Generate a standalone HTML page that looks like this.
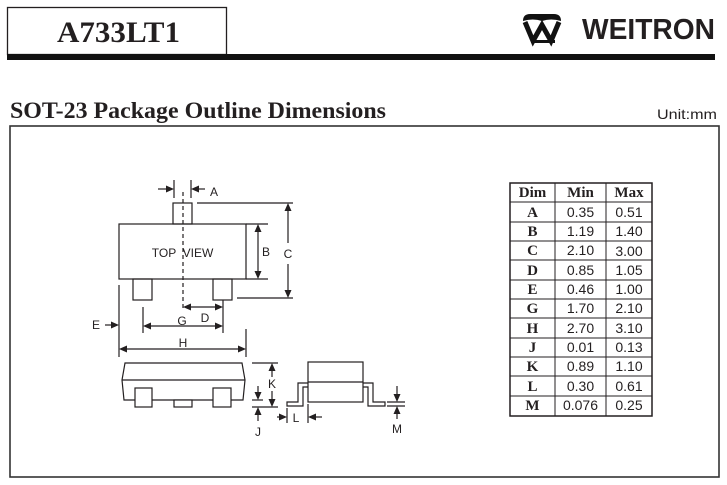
<!DOCTYPE html>
<html><head><meta charset="utf-8"><style>
html,body{margin:0;padding:0;background:#fff;}
svg{display:block;}
text{fill:#231f20;}
.s{font-family:"Liberation Sans",sans-serif;}
.r{font-family:"Liberation Serif",serif;font-weight:bold;}
</style></head><body>
<svg width="727" height="485" viewBox="0 0 727 485" xmlns="http://www.w3.org/2000/svg">
<!-- header -->
<rect x="7.5" y="7.5" width="219" height="47" fill="none" stroke="#231f20" stroke-width="1.3"/>
<rect x="7" y="54" width="708" height="6" fill="#111"/>
<text x="57" y="42" class="r" font-size="30" textLength="123" lengthAdjust="spacingAndGlyphs">A733LT1</text>
<!-- logo -->
<path d="M523,21 Q523,14 530,14 L554,14 Q561,14 561,21 Q551,18 542,21 Q533,18 523,21 Z" fill="#111"/>
<polyline points="525,22 533,41 542,25 551,41 559,22" fill="none" stroke="#111" stroke-width="5"/>
<rect x="531" y="40" width="24" height="3" fill="#111"/>
<text x="582" y="39" class="s" font-weight="bold" font-size="29" textLength="133" lengthAdjust="spacingAndGlyphs">WEITRON</text>
<!-- title -->
<text x="10" y="118" class="r" font-size="23" textLength="376" lengthAdjust="spacingAndGlyphs">SOT-23 Package Outline Dimensions</text>
<text x="657" y="119" class="s" font-size="14" textLength="60" lengthAdjust="spacingAndGlyphs">Unit:mm</text>
<!-- frame -->
<rect x="10" y="126" width="709" height="351" fill="none" stroke="#333" stroke-width="1.6"/>

<g stroke="#231f20" stroke-width="1.2" fill="none">
  <!-- top view -->
  <rect x="173" y="203" width="19" height="21"/>
  <rect x="119" y="224" width="127" height="55"/>
  <rect x="133" y="279" width="19" height="21"/>
  <rect x="213" y="279" width="19" height="21"/>
  <line x1="183" y1="192" x2="183" y2="308" stroke-dasharray="4,3"/>
  <!-- A -->
  <line x1="174" y1="180" x2="174" y2="198"/>
  <line x1="191" y1="180" x2="191" y2="198"/>
  <line x1="158" y1="189" x2="168" y2="189"/>
  <line x1="196" y1="189" x2="205" y2="189"/>
  <!-- B -->
  <line x1="246" y1="224" x2="268" y2="224"/>
  <line x1="246" y1="279" x2="268" y2="279"/>
  <line x1="258" y1="230" x2="258" y2="273"/>
  <!-- C -->
  <line x1="197" y1="203" x2="293" y2="203"/>
  <line x1="237" y1="298" x2="293" y2="298"/>
  <line x1="288" y1="209" x2="288" y2="243"/>
  <line x1="288" y1="264" x2="288" y2="292"/>
  <!-- D -->
  <line x1="223" y1="300" x2="223" y2="333"/>
  <line x1="189" y1="307" x2="217" y2="307"/>
  <!-- G -->
  <line x1="143" y1="307" x2="143" y2="333"/>
  <line x1="149" y1="326" x2="217" y2="326"/>
  <!-- E -->
  <line x1="119" y1="285" x2="119" y2="357"/>
  <line x1="105" y1="325" x2="113" y2="325"/>
  <!-- H -->
  <line x1="246" y1="329" x2="246" y2="357"/>
  <line x1="125" y1="349" x2="240" y2="349"/>

  <!-- side view -->
  <path d="M125,363 L242,363 L245,380 L243,400 L124,400 L122,380 Z"/>
  <line x1="122" y1="380" x2="245" y2="380"/>
  <rect x="135" y="388" width="17" height="19" fill="#fff"/>
  <rect x="213" y="388" width="18" height="19" fill="#fff"/>
  <rect x="174" y="400" width="18" height="7" fill="#fff"/>
  <!-- K -->
  <line x1="252" y1="363" x2="278" y2="363"/>
  <line x1="252" y1="407" x2="278" y2="407"/>
  <line x1="252" y1="400" x2="263" y2="400"/>
  <line x1="272" y1="369" x2="272" y2="377"/>
  <line x1="272" y1="391" x2="272" y2="401"/>
  <!-- J -->
  <line x1="258" y1="386" x2="258" y2="394"/>
  <line x1="258" y1="413" x2="258" y2="421"/>
  <!-- end view -->
  <rect x="308" y="362" width="55" height="40"/>
  <line x1="308" y1="382" x2="363" y2="382"/>
  <path d="M308,383 L298,383 L298,402 L287,402 L287,406 L303,406 L303,387 L308,387"/>
  <path d="M363,383 L373,383 L373,402 L385,402 L385,406 L368,406 L368,387 L363,387"/>
  <!-- L -->
  <line x1="287" y1="408" x2="287" y2="423"/>
  <line x1="308" y1="404" x2="308" y2="423"/>
  <line x1="277" y1="417" x2="281" y2="417"/>
  <line x1="314" y1="417" x2="322" y2="417"/>
  <!-- M -->
  <line x1="387" y1="402" x2="405" y2="402"/>
  <line x1="387" y1="406" x2="405" y2="406"/>
  <line x1="397" y1="386" x2="397" y2="396"/>
  <line x1="397" y1="413" x2="397" y2="419"/>
</g>

<g fill="#231f20">
  <polygon points="174,189 166,185.5 166,192.5"/>
  <polygon points="191,189 199,185.5 199,192.5"/>
  <polygon points="258,224 254.5,232 261.5,232"/>
  <polygon points="258,279 254.5,271 261.5,271"/>
  <polygon points="288,203 284.5,211 291.5,211"/>
  <polygon points="288,298 284.5,290 291.5,290"/>
  <polygon points="183,307 191,303.5 191,310.5"/>
  <polygon points="223,307 215,303.5 215,310.5"/>
  <polygon points="143,326 151,322.5 151,329.5"/>
  <polygon points="223,326 215,322.5 215,329.5"/>
  <polygon points="119,325 111,321.5 111,328.5"/>
  <polygon points="119,349 127,345.5 127,352.5"/>
  <polygon points="246,349 238,345.5 238,352.5"/>
  <polygon points="272,363 268.5,371 275.5,371"/>
  <polygon points="272,407 268.5,399 275.5,399"/>
  <polygon points="258,400 254.5,392 261.5,392"/>
  <polygon points="258,407 254.5,415 261.5,415"/>
  <polygon points="287,417 279,413.5 279,420.5"/>
  <polygon points="308,417 316,413.5 316,420.5"/>
  <polygon points="397,402 393.5,394 400.5,394"/>
  <polygon points="397,406 393.5,414 400.5,414"/>
</g>

<g class="s" font-size="12" text-anchor="middle">
  <text x="214" y="196">A</text>
  <text x="164" y="257">TOP</text>
  <text x="198" y="257">VIEW</text>
  <text x="266" y="256">B</text>
  <text x="288" y="258">C</text>
  <text x="205" y="322">D</text>
  <text x="182" y="325">G</text>
  <text x="96" y="329">E</text>
  <text x="183" y="347">H</text>
  <text x="272" y="388">K</text>
  <text x="258" y="436">J</text>
  <text x="296" y="422">L</text>
  <text x="397" y="433">M</text>
</g>

<!-- table -->
<g stroke="#231f20" fill="none">
  <rect x="510" y="183" width="142" height="233" stroke-width="1.5"/>
  <g stroke-width="1">
    <line x1="555" y1="183" x2="555" y2="416"/>
    <line x1="606" y1="183" x2="606" y2="416"/>
    <line x1="510" y1="202" x2="652" y2="202"/>
    <line x1="510" y1="222" x2="652" y2="222"/>
    <line x1="510" y1="241" x2="652" y2="241"/>
    <line x1="510" y1="260" x2="652" y2="260"/>
    <line x1="510" y1="280" x2="652" y2="280"/>
    <line x1="510" y1="299" x2="652" y2="299"/>
    <line x1="510" y1="318" x2="652" y2="318"/>
    <line x1="510" y1="338" x2="652" y2="338"/>
    <line x1="510" y1="357" x2="652" y2="357"/>
    <line x1="510" y1="376" x2="652" y2="376"/>
    <line x1="510" y1="396" x2="652" y2="396"/>
  </g>
</g>
<g class="r" font-size="15" text-anchor="middle">
  <text x="532.5" y="197">Dim</text>
  <text x="580.5" y="197">Min</text>
  <text x="629" y="197">Max</text>
  <text x="532.5" y="217">A</text>
  <text x="532.5" y="236">B</text>
  <text x="532.5" y="255">C</text>
  <text x="532.5" y="275">D</text>
  <text x="532.5" y="294">E</text>
  <text x="532.5" y="313">G</text>
  <text x="532.5" y="333">H</text>
  <text x="532.5" y="352">J</text>
  <text x="532.5" y="371">K</text>
  <text x="532.5" y="391">L</text>
  <text x="532.5" y="410">M</text>
</g>
<g class="s" font-size="14" text-anchor="middle">
  <text x="580.5" y="217">0.35</text><text x="629" y="217">0.51</text>
  <text x="580.5" y="236">1.19</text><text x="629" y="236">1.40</text>
  <text x="580.5" y="255">2.10</text><text x="629" y="256">3.00</text>
  <text x="580.5" y="275">0.85</text><text x="629" y="275">1.05</text>
  <text x="580.5" y="294">0.46</text><text x="629" y="294">1.00</text>
  <text x="580.5" y="313">1.70</text><text x="629" y="313">2.10</text>
  <text x="580.5" y="333">2.70</text><text x="629" y="333">3.10</text>
  <text x="580.5" y="352">0.01</text><text x="629" y="352">0.13</text>
  <text x="580.5" y="371">0.89</text><text x="629" y="371">1.10</text>
  <text x="580.5" y="391">0.30</text><text x="629" y="391">0.61</text>
  <text x="580.5" y="410">0.076</text><text x="629" y="410">0.25</text>
</g>
</svg>
</body></html>
